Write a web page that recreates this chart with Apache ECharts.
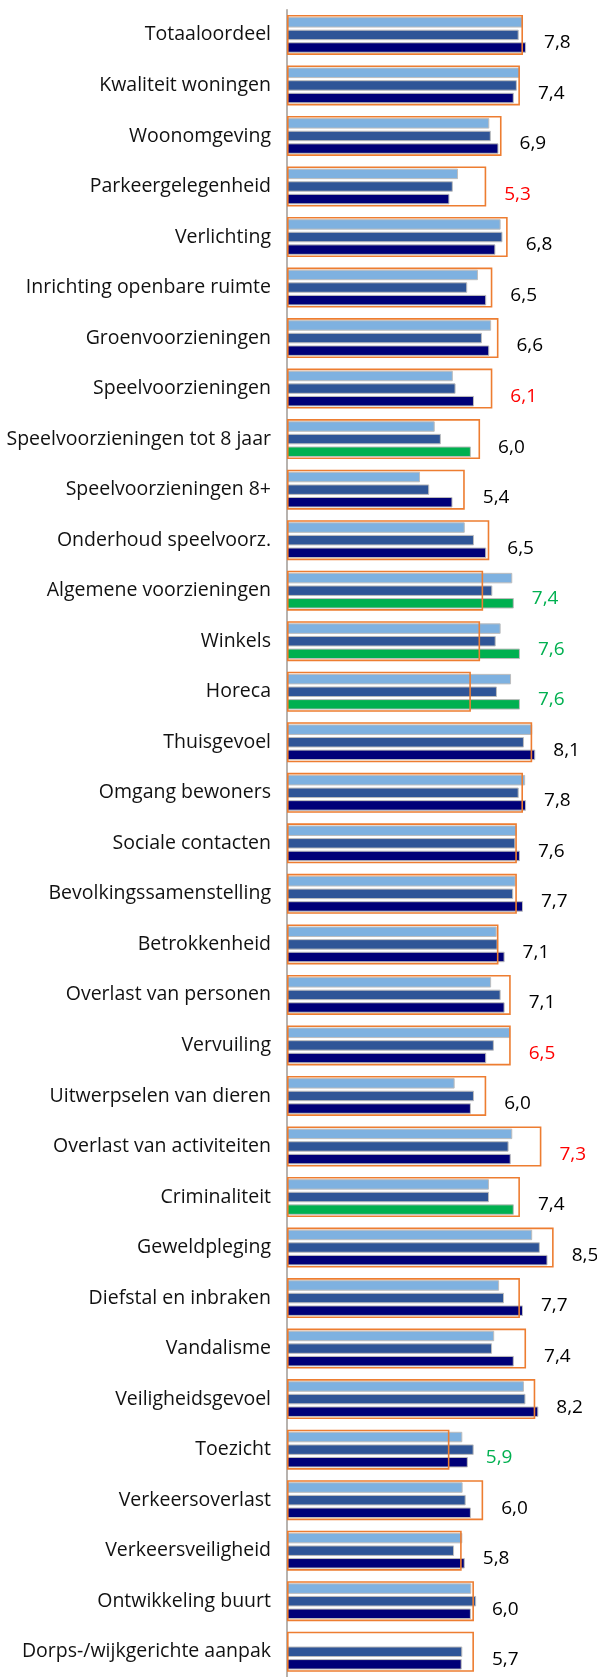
<!DOCTYPE html>
<html>
<head>
<meta charset="utf-8">
<script src="https://cdn.jsdelivr.net/npm/echarts@6/dist/echarts.min.js"></script>
<style>
  html, body { margin: 0; padding: 0; background: #fff; }
  #chart { width: 597px; height: 1677px; }
</style>
</head>
<body>
<div id="chart"></div>
<script>
// Rapportcijfers per thema
const categories = [
  'Totaaloordeel', 'Kwaliteit woningen', 'Woonomgeving', 'Parkeergelegenheid',
  'Verlichting', 'Inrichting openbare ruimte', 'Groenvoorzieningen', 'Speelvoorzieningen',
  'Speelvoorzieningen tot 8 jaar', 'Speelvoorzieningen 8+', 'Onderhoud speelvoorz.',
  'Algemene voorzieningen', 'Winkels', 'Horeca', 'Thuisgevoel', 'Omgang bewoners',
  'Sociale contacten', 'Bevolkingssamenstelling', 'Betrokkenheid', 'Overlast van personen',
  'Vervuiling', 'Uitwerpselen van dieren', 'Overlast van activiteiten', 'Criminaliteit',
  'Geweldpleging', 'Diefstal en inbraken', 'Vandalisme', 'Veiligheidsgevoel', 'Toezicht',
  'Verkeersoverlast', 'Verkeersveiligheid', 'Ontwikkeling buurt', 'Dorps-/wijkgerichte aanpak'
];

// oudste meting
const meting1 = [7.69, 7.60, 6.60, 5.58, 6.97, 6.23, 6.66, 5.41, 4.82, 4.34, 5.80, 7.35, 6.97,
  7.31, 8.00, 7.77, 7.49, 7.46, 6.84, 6.66, 7.28, 5.47, 7.35, 6.59, 8.00, 6.92, 6.76, 7.73,
  5.72, 5.73, 5.72, 6.01, null];

// tussenliggende meting
const meting2 = [7.56, 7.50, 6.65, 5.41, 7.03, 5.88, 6.36, 5.50, 5.02, 4.64, 6.10, 6.70, 6.81,
  6.85, 7.73, 7.56, 7.45, 7.38, 6.87, 6.97, 6.75, 6.10, 7.23, 6.59, 8.25, 7.08, 6.69, 7.78,
  6.09, 5.83, 5.45, 6.17, 5.72];

// laatste meting (waarde in het label)
const meting3 = [7.8, 7.4, 6.9, 5.3, 6.8, 6.5, 6.6, 6.1, 6.0, 5.4, 6.5, 7.4, 7.6, 7.6, 8.1,
  7.8, 7.6, 7.7, 7.1, 7.1, 6.5, 6.0, 7.3, 7.4, 8.5, 7.7, 7.4, 8.2, 5.9, 6.0, 5.8, 6.0, 5.7];

// referentiewaarde (kader)
const referentie = [7.7, 7.6, 7.0, 6.5, 7.2, 6.7, 6.9, 6.7, 6.3, 5.8, 6.6, 6.4, 6.3, 6.0, 8.0,
  7.7, 7.5, 7.5, 6.9, 7.3, 7.3, 6.5, 8.3, 7.6, 8.7, 7.6, 7.8, 8.1, 5.3, 6.4, 5.7, 6.1, 6.1];

// opvallende stijging in laatste meting (balk gemarkeerd)
const stijging = [0, 0, 0, 0, 0, 0, 0, 0, 1, 0, 0, 1, 1, 1, 0, 0, 0, 0, 0, 0, 0, 0, 0, 1,
  0, 0, 0, 0, 0, 0, 0, 0, 0];

// afwijking t.o.v. referentie: -1 lager, 1 hoger, 0 gelijk
const afwijking = [0, 0, 0, -1, 0, 0, 0, -1, 0, 0, 0, 1, 1, 1, 0, 0, 0, 0, 0, 0, -1, 0, -1, 0,
  0, 0, 0, 0, 1, 0, 0, 0, 0];

const COL_LIGHT = '#7EB1E0';
const COL_MID = '#2F5597';
const COL_DARK = '#000078';
const COL_GREEN = '#00B050';
const COL_BOX = '#ED7D31';
const toneColor = { '-1': '#FF0000', '0': '#000000', '1': '#00B050' };

const barEdge = {
  borderColor: '#BDBDBD',
  borderWidth: 1
};

const chart = echarts.init(document.getElementById('chart'), null, { renderer: 'canvas' });

const fmt = v => v.toFixed(1).replace('.', ',');

const option = {
  animation: false,
  grid: { left: 287, top: 9.65, width: 306.5, height: 1673, containLabel: false },
  xAxis: [{ type: 'value', min: 0, max: 10, show: false }],
  yAxis: [
    {
      type: 'category',
      data: categories,
      inverse: true,
      axisTick: { show: false },
      axisLine: { show: true, lineStyle: { color: '#A09A94', width: 1.5 } },
      axisLabel: {
        margin: 16,
        fontFamily: 'Open Sans',
        fontSize: 19.5,
        color: '#111',
        padding: [8, 0, 0, 0]
      },
      splitLine: { show: false }
    },
    {
      type: 'category',
      data: categories,
      inverse: true,
      show: false
    }
  ],
  series: [
    {
      name: 'meting1', type: 'bar', yAxisIndex: 0, barWidth: 10.5, barGap: '20%',
      itemStyle: Object.assign({ color: COL_LIGHT }, barEdge),
      data: meting1
    },
    {
      name: 'meting2', type: 'bar', yAxisIndex: 0, barWidth: 10.5, barGap: '20%',
      itemStyle: Object.assign({ color: COL_MID }, barEdge),
      data: meting2
    },
    {
      name: 'meting3', type: 'bar', yAxisIndex: 0, barWidth: 10.5, barGap: '20%',
      itemStyle: Object.assign({ color: COL_DARK }, barEdge),
      data: meting3.map((v, i) => ({
        value: v,
        itemStyle: { color: stijging[i] ? COL_GREEN : COL_DARK }
      }))
    },
    {
      name: 'referentie', type: 'bar', yAxisIndex: 1, xAxisIndex: 0, barWidth: 40, barGap: '-100%',
      z: 5,
      itemStyle: { color: 'rgba(0,0,0,0)', borderColor: COL_BOX, borderWidth: 1.6 },
      data: referentie
    },
    {
      name: 'label', type: 'bar', yAxisIndex: 1, xAxisIndex: 0, barWidth: 40, barGap: '-100%',
      z: 6, silent: true,
      itemStyle: { color: 'rgba(0,0,0,0)' },
      data: meting3.map((v, i) => ({
        value: Math.max(v, referentie[i]),
        label: {
          show: true,
          position: 'right',
          distance: 18,
          offset: [0, 8],
          fontFamily: 'Open Sans',
          fontSize: 19,
          color: toneColor[String(afwijking[i])],
          formatter: () => fmt(v)
        }
      }))
    }
  ]
};

chart.setOption(option);
</script>
</body>
</html>
